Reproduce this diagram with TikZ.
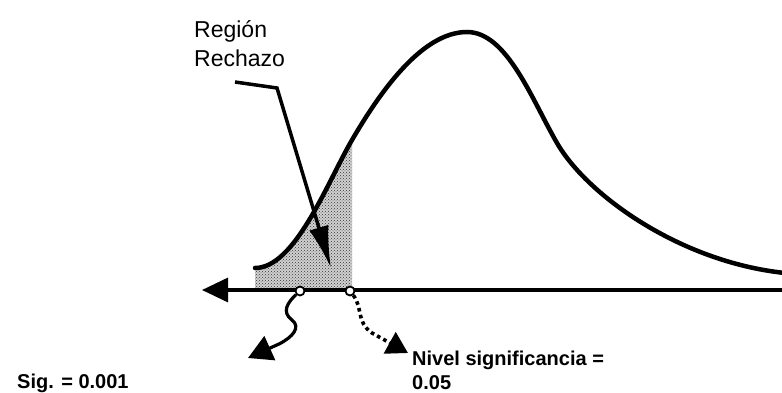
\documentclass[tikz,border=0pt]{standalone}
\usepackage{fontspec}
\setmainfont{Liberation Sans}
\usetikzlibrary{arrows.meta,patterns}
\begin{document}
\begin{tikzpicture}[x=1pt,y=-1pt]
\tikzstyle{curveline}=[line width=4.5pt,line cap=round];
\tikzstyle{axisline}=[line width=3.2pt];
\tikzstyle{ring}=[draw,shape=circle,fill=white,line width=1.8pt,inner sep=0pt,minimum size=9pt];
\tikzstyle{txt}=[inner sep=0pt,align=left,font=\bfseries\fontsize{20}{23.5}\selectfont];
\useasboundingbox (0,0) rectangle (782,393);
\fill[black!18] (255,290) -- (255,268) .. controls (295,268) and (327,183) .. (352,140) -- (352,290) -- cycle;
\fill[pattern=crosshatch dots,pattern color=black!80] (255,290) -- (255,268) .. controls (295,268) and (327,183) .. (352,140) -- (352,290) -- cycle;
\draw[curveline] (255,268) .. controls (295,268) and (327,183) .. (352,140)
  .. controls (380,92) and (422,32) .. (467,32)
  .. controls (507,32) and (532,100) .. (557,143)
  .. controls (587,195) and (680,262) .. (785,273);
\coordinate (left) at (202,290);
\coordinate (right) at (785,290);
\draw[axisline,{Triangle[length=26pt,width=24pt]}-] (left) -- (right);
\node[ring] (lo) at (300,291) {};
\node[ring] (hi) at (350,291) {};
\node[anchor=north west,inner sep=0pt,align=left,font=\fontsize{23}{29.5}\selectfont] (reg) at (194,20) {Región\\Rechazo};
\coordinate (p0) at (235,82);
\coordinate (p1) at (277,88);
\coordinate (p2) at (331,268);
\draw[line width=3.5pt,-{Latex[length=42pt,width=20pt]}] (p0) -- (p1) -- (p2);
\coordinate (sigend) at (248,358);
\draw[line width=3.2pt,-{Triangle[length=24pt,width=26pt]}] (lo) .. controls (288,302) and (281,312) .. (292,320) .. controls (301,327) and (293,337) .. (279,344) -- (sigend);
\coordinate (nivend) at (408,353);
\draw[line width=3.6pt,dash pattern=on 3.6pt off 3.4pt,-{Triangle[length=21pt,width=24pt]}] (hi) .. controls (363,308) and (356,322) .. (372,333) -- (nivend);
\node[txt,anchor=north west] (niv) at (412,351) {Nivel significancia =\\0.05};
\node[txt,anchor=base west] (sig) at (17,388) {Sig. = 0.001};
\end{tikzpicture}
\end{document}
